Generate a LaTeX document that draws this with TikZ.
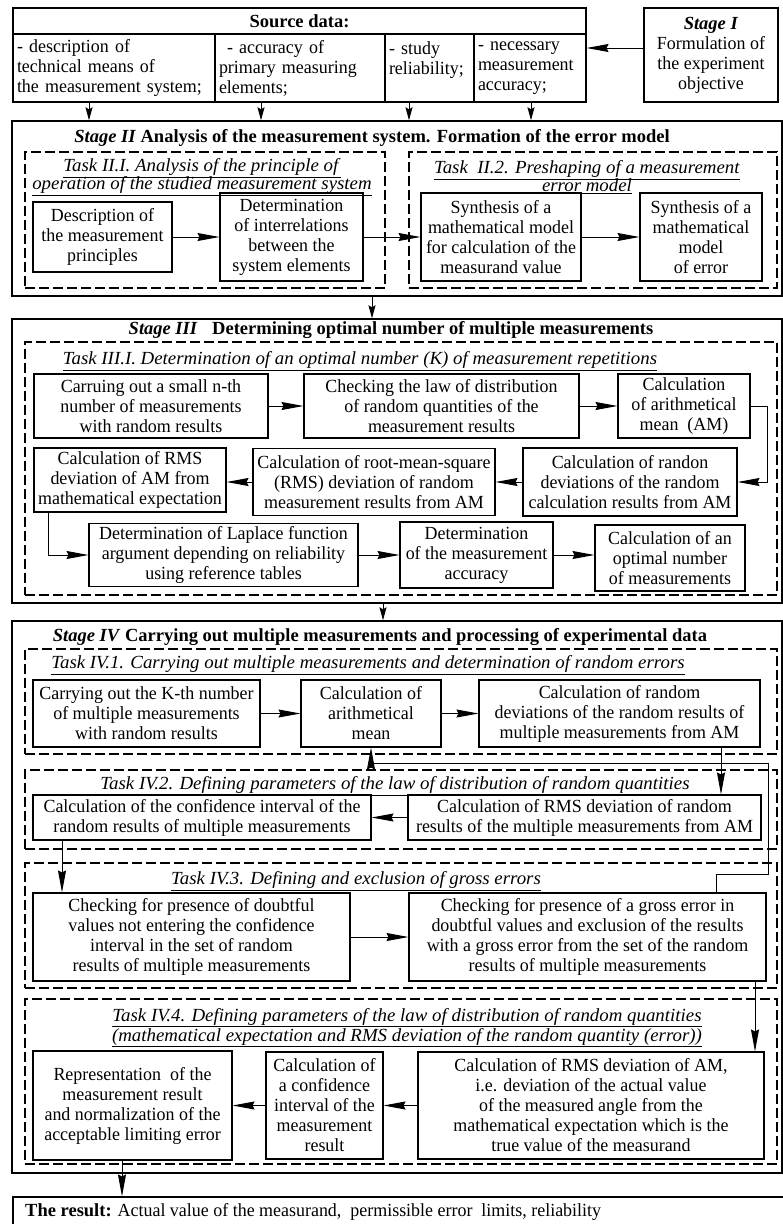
\documentclass[tikz,border=0pt]{standalone}
\usepackage{fontspec}
\setmainfont{Liberation Serif}[UprightFeatures={FakeStretch=0.97}, ItalicFeatures={FakeStretch=1.02}]
\usetikzlibrary{arrows.meta}
\newcommand{\tsk}[1]{\underline{\textit{#1}}}

\begin{document}
\begin{tikzpicture}[x=1pt, y=-1pt,
	every node/.style={font=\fontsize{18.5pt}{20pt}\selectfont},
	blk/.style={draw, line width=1.1pt, inner sep=0pt, align=center},
	stg/.style={draw, line width=1.4pt, inner sep=0pt},
	task/.style={draw, line width=1.1pt, dash pattern=on 10pt off 4pt, inner sep=0pt},
	ttl/.style={align=center, inner sep=0pt},
	arr/.style={line width=1pt, -{Stealth[length=22pt, width=8pt, inset=2pt]}},
	sarr/.style={line width=1pt, -{Stealth[length=13pt, width=7pt, inset=2pt]}}]
	\path[use as bounding box, clip] (0,0) rectangle (783,1224);

	\node[blk, minimum width=573pt, minimum height=26pt] (srchd) at (299.5,21) {\textbf{Source data:}};
	\node[blk, text width=194pt, inner xsep=4pt, align=left, minimum height=68pt] (src1) at (114,68) {- description of\\technical means of\\the measurement system;};
	\node[blk, text width=162pt, inner xsep=4pt, align=left, minimum height=68pt] (src2) at (300,68) {\hspace*{8pt}- accuracy of\\primary measuring\\elements;};
	\node[blk, text width=81pt, inner xsep=4pt, align=left, minimum height=68pt] (src3) at (429.5,68) {- study\\reliability;\\\mbox{}};
	\node[blk, text width=104pt, inner xsep=4pt, align=left, minimum height=68pt] (src4) at (530,68) {- necessary\\measurement\\accuracy;};
	\node[blk, minimum width=134pt, minimum height=94pt] (stg1) at (711,55) {\textbf{\textit{Stage I}}\\Formulation of\\the experiment\\objective};
	\draw[arr] ([yshift=7pt]stg1.west) -- ([yshift=7pt]stg1.west -| src4.east);

	\node[stg, minimum width=770pt, minimum height=175pt] (st2) at (397,208.5) {};
	\draw[sarr] ([xshift=-25pt]src1.south) -- ([xshift=-25pt]src1.south |- st2.north);
	\draw[sarr] ([xshift=-39pt]src2.south) -- ([xshift=-39pt]src2.south |- st2.north);
	\draw[sarr] ([xshift=-20.5pt]src3.south) -- ([xshift=-20.5pt]src3.south |- st2.north);
	\draw[sarr] ([xshift=1pt]src4.south) -- ([xshift=1pt]src4.south |- st2.north);
	\node[ttl] (t2) at (372,138) {\textbf{\textit{Stage II} Analysis of the measurement system. Formation of the error model}};
	\node[task, minimum width=360pt, minimum height=136pt] (tk21) at (205,220) {};
	\node[task, minimum width=368pt, minimum height=136pt] (tk22) at (593,220) {};
	\node[ttl] (tt21) at (202,177) {\tsk{Task II.I. Analysis of the principle of}\\[-2pt]\tsk{operation of the studied measurement system}};
	\node[ttl] (tt22) at (587,177) {\tsk{Task\ \ II.2. Preshaping of a measurement}\\[-2pt]\tsk{error model}};
	\node[blk, minimum width=139pt, minimum height=70pt] (b21) at (102.5,237) {Description of\\the measurement\\principles};
	\node[blk, minimum width=143pt, minimum height=88pt] (b22) at (291.5,237) {Determination\\of interrelations\\between the\\system elements};
	\node[blk, minimum width=160pt, minimum height=88pt] (b23) at (501,237) {Synthesis of a\\mathematical model\\for calculation of the\\measurand value};
	\node[blk, minimum width=122pt, minimum height=88pt] (b24) at (701,237) {Synthesis of a\\mathematical\\model\\of error};
	\draw[arr] (b21) -- (b22);
	\draw[arr] (b22) -- (b23);
	\draw[arr] (b23) -- (b24);

	\node[stg, minimum width=770pt, minimum height=284pt] (st3) at (397,461) {};
	\draw[sarr] ([xshift=-25pt]st2.south) -- ([xshift=-25pt]st3.north);
	\node[ttl] (t3) at (391,330) {\textbf{\textit{Stage III}\hspace{10pt} Determining optimal number of multiple measurements}};
	\node[task, minimum width=752pt, minimum height=253pt] (tk31) at (401,468.5) {};
	\node[ttl] (tt31) at (360,361) {\tsk{Task III.I. Determination of an optimal number (K) of measurement repetitions}};
	\node[blk, minimum width=234pt, minimum height=64pt] (a1) at (151,406) {Carruing out a small n-th\\number of measurements\\with random results};
	\node[blk, minimum width=275pt, minimum height=64pt] (a2) at (441.5,406) {Checking the law of distribution\\of random quantities of the\\measurement results};
	\node[blk, minimum width=132pt, minimum height=64pt] (a3) at (684,406) {Calculation\\of arithmetical\\mean\ \ (AM)};
	\node[blk, minimum width=192pt, minimum height=64pt] (a4) at (130,480) {Calculation of RMS\\deviation of AM from\\mathematical expectation};
	\node[blk, minimum width=242pt, minimum height=67pt] (a5) at (374,482) {Calculation of root-mean-square\\(RMS) deviation of random\\measurement results from AM};
	\node[blk, minimum width=214pt, minimum height=68pt] (a6) at (630,482) {Calculation of randon\\deviations of the random\\calculation results from AM};
	\node[blk, minimum width=269pt, minimum height=63pt] (a7) at (223.5,555) {Determination of Laplace function\\argument depending on reliability\\using reference tables};
	\node[blk, minimum width=153pt, minimum height=66pt] (a8) at (476.5,555) {Determination\\of the measurement\\accuracy};
	\node[blk, minimum width=150pt, minimum height=66pt] (a9) at (670,558) {Calculation of an\\optimal number\\of measurements};
	\draw[arr] (a1) -- (a2);
	\draw[arr] (a2) -- (a3);
	\draw[arr] (a3.east) -- ++(17,0) |- (a6.east);
	\draw[arr] (a6) -- (a5);
	\draw[arr] (a5.west) -- (a5.west -| a4.east);
	\draw[arr] ([xshift=-82pt]a4.south) |- (a7.west);
	\draw[arr] (a7) -- (a8);
	\draw[arr] (a8.east) -- (a8.east -| a9.west);

	\node[stg, minimum width=770pt, minimum height=552pt] (st4) at (397,897) {};
	\draw[sarr] ([xshift=-14pt]st3.south) -- ([xshift=-14pt]st4.north);
	\node[ttl] (t4) at (380,637) {\textbf{\textit{Stage IV} Carrying out multiple measurements and processing of experimental data}};

	\node[task, minimum width=752pt, minimum height=105pt] (tk41) at (401,701.5) {};
	\node[ttl] (tt41) at (368,665) {\tsk{Task IV.1. Carrying out multiple measurements and determination of random errors}};
	\node[blk, minimum width=227pt, minimum height=67pt] (c1) at (146.5,713.5) {Carrying out the K-th number\\of multiple measurements\\with random results};
	\node[blk, minimum width=140pt, minimum height=67pt] (c2) at (371,713.5) {Calculation of\\arithmetical\\mean};
	\node[blk, minimum width=281pt, minimum height=67pt] (c3) at (619.5,713.5) {Calculation of random\\deviations of the random results of\\multiple measurements from AM};
	\draw[arr] (c1) -- (c2);
	\draw[arr] (c2) -- (c3);

	\node[task, minimum width=752pt, minimum height=79pt] (tk42) at (401,809.5) {};
	\node[ttl] (tt42) at (395,786) {\tsk{Task IV.2. Defining parameters of the law of distribution of random quantities}};
	\node[blk, minimum width=338pt, minimum height=45pt] (c4) at (202,817.5) {Calculation of the confidence interval of the\\random results of multiple measurements};
	\node[blk, minimum width=353pt, minimum height=45pt] (c5) at (584.5,817.5) {Calculation of RMS deviation of random\\results of the multiple measurements from AM};
	\draw[arr] ([xshift=101.5pt]c3.south) -- ([xshift=101.5pt]c3.south |- c5.north);
	\draw[arr] (c5) -- (c4);

	\node[task, minimum width=752pt, minimum height=125pt] (tk43) at (401,925.5) {};
	\node[ttl] (tt43) at (356,881) {\tsk{Task IV.3. Defining and exclusion of gross errors}};
	\node[blk, minimum width=317pt, minimum height=88pt] (c6) at (191.5,937) {Checking for presence of doubtful\\values not entering the confidence\\interval in the set of random\\results of multiple measurements};
	\node[blk, minimum width=357pt, minimum height=88pt] (c7) at (587.5,937) {Checking for presence of a gross error in\\doubtful values and exclusion of the results\\with a gross error from the set of the random\\results of multiple measurements};
	\draw[arr] ([xshift=-140pt]c4.south) -- ([xshift=-140pt]c4.south |- c6.north);
	\draw[arr] (c6) -- (c7);
	\coordinate (fb) at (768,763);
	\draw[arr] ([xshift=128.5pt]c7.north) -- ++(0,-18) -| (fb) -| (c2.south);

	\node[task, minimum width=752pt, minimum height=165pt] (tk44) at (401,1081.5) {};
	\node[ttl] (tt44) at (407,1027.5) {\tsk{Task IV.4. Defining parameters of the law of distribution of random quantities}\\\tsk{(mathematical expectation and RMS deviation of the random quantity (error))}};
	\node[blk, minimum width=199pt, minimum height=109pt] (c8) at (132.5,1105.5) {Representation\ \ of the\\measurement result\\and normalization of the\\acceptable limiting error};
	\node[blk, minimum width=117pt, minimum height=107pt] (c9) at (324.5,1105.5) {Calculation of\\a confidence\\interval of the\\measurement\\result};
	\node[blk, minimum width=346pt, minimum height=107pt] (c10) at (591,1105.5) {Calculation of RMS deviation of AM,\\i.e. deviation of the actual value\\of the measured angle from the\\mathematical expectation which is the\\true value of the measurand};
	\draw[arr] ([xshift=167.5pt]c7.south) -- ([xshift=167.5pt]c7.south |- c10.north);
	\draw[arr] (c10) -- (c9);
	\draw[arr] (c9) -- (c8);

	\node[blk, minimum width=790pt, minimum height=43pt] (res) at (408,1218.5) {};
	\node[anchor=west, inner sep=0pt] (rest) at (25,1212) {\textbf{The result:} Actual value of the measurand,\ \ permissible error\ \ limits, reliability};
	\draw[arr] ([xshift=-10.5pt]c8.south) -- ([xshift=-10.5pt]c8.south |- res.north);
\end{tikzpicture}
\end{document}
